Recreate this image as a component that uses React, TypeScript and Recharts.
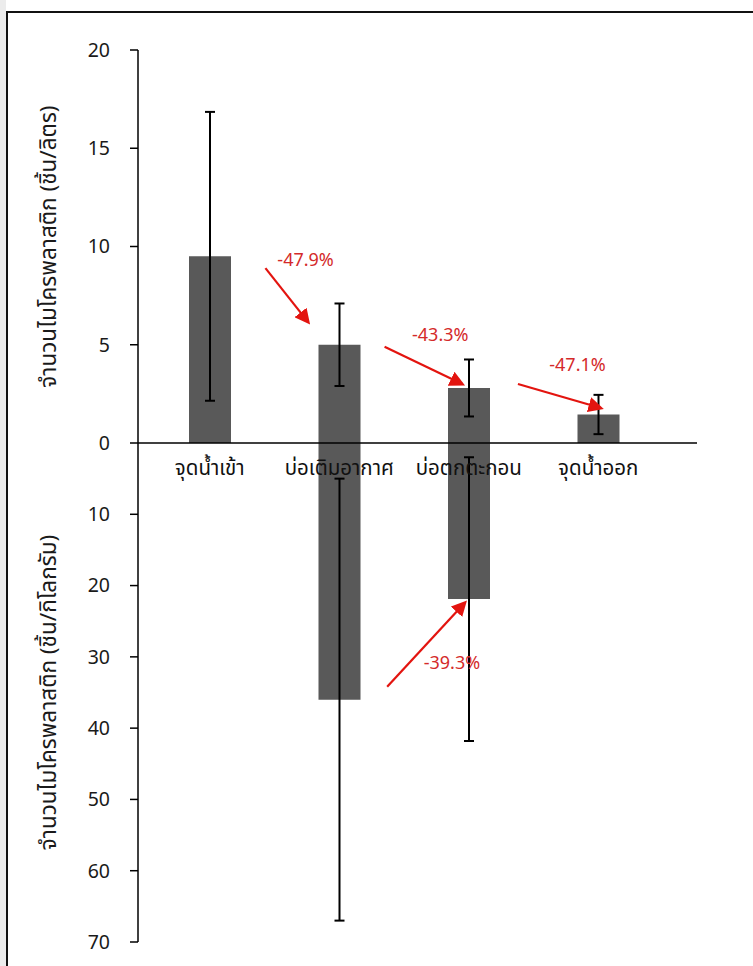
import React from 'react';
import { BarChart, Bar, XAxis, YAxis, ErrorBar } from 'recharts';

// ---- data ----
const categories = ['จุดน้ำเข้า', 'บ่อเติมอากาศ', 'บ่อตกตะกอน', 'จุดน้ำออก'];
const perLitre = [9.5, 5.0, 2.8, 1.45];
const perLitreErr = [7.35, 2.1, 1.45, 1.0];
const perKg: (number | null)[] = [null, 36.0, 21.9, null];
const perKgErr: (number | null)[] = [null, 31.0, 19.9, null];
const topTicks = [0, 5, 10, 15, 20];
const bottomTicks = [10, 20, 30, 40, 50, 60, 70];

// annotations in data units: category index (fractional) and value on the panel axis
const topArrows = [
  { from: [0.43, 8.9], to: [0.76, 6.15], label: '-47.9%', at: [0.74, 9.3] },
  { from: [1.35, 4.9], to: [1.95, 3.0], label: '-43.3%', at: [1.78, 5.45] },
  { from: [2.38, 3.0], to: [3.02, 1.78], label: '-47.1%', at: [2.84, 3.92] },
];
const bottomArrows = [
  { from: [1.37, 34.2], to: [1.97, 22.4], label: '-39.3%', at: [1.87, 30.9] },
];

const topData = categories.map((c, i) => ({ cat: c, v: perLitre[i], e: perLitreErr[i] }));
const bottomData = categories.map((c, i) => ({ cat: c, v: perKg[i], e: perKgErr[i] }));

// ---- layout ----
const W = 753;
const H = 966;
const AXIS_X = 138;
const RIGHT_END = 697;
const TOP_Y = 50;
const ZERO_Y = 443;
const BOTTOM_Y = 942;
const PAD_L = 7;
const PAD_R = 34;
const Y_W = 40;
const X_H = 30;
const FONT = "Tahoma, 'Noto Sans Thai', 'Leelawadee UI', 'DejaVu Sans', 'Noto Sans', sans-serif";
const TOP_MAX = 20;
const BOT_MAX = 70;

const band = (RIGHT_END - AXIS_X - PAD_L - PAD_R) / categories.length;
const xOf = (i: number) => AXIS_X + PAD_L + (i + 0.5) * band;
const yTop = (v: number) => ZERO_Y - (v / TOP_MAX) * (ZERO_Y - TOP_Y);
const yBot = (v: number) => ZERO_Y + (v / BOT_MAX) * (BOTTOM_Y - ZERO_Y);

const tickStyle = { fontFamily: FONT, fontSize: 19.5, fill: '#1a1a1a' };
const axisTitleStyle = { textAnchor: 'middle', fontFamily: FONT, fontSize: 22.5, fill: '#1a1a1a' };

export default function App() {
  const arrows = [
    ...topArrows.map((a) => ({ ...a, y: yTop })),
    ...bottomArrows.map((a) => ({ ...a, y: yBot })),
  ];
  return (
    <div style={{ position: 'absolute', left: 0, top: 0, width: W, height: H, background: '#fff', overflow: 'hidden' }}>
      <div style={{ position: 'absolute', left: 0, top: 0, width: 6, height: H, background: '#ececec' }} />
      <div
        style={{
          position: 'absolute',
          left: 6,
          top: 11,
          width: W + 20,
          height: H + 20,
          borderLeft: '2px solid #111',
          borderTop: '2px solid #111',
        }}
      />
      {/* bottom panel (per kg), drawn underneath */}
      <div style={{ position: 'absolute', left: 0, top: 0 }}>
        <BarChart
          width={W}
          height={H}
          data={bottomData}
          margin={{ top: ZERO_Y, right: W - RIGHT_END, bottom: H - BOTTOM_Y, left: AXIS_X - Y_W }}
        >
          <XAxis dataKey="cat" hide padding={{ left: PAD_L, right: PAD_R }} />
          <YAxis
            width={Y_W}
            reversed
            type="number"
            domain={[0, BOT_MAX]}
            ticks={bottomTicks}
            interval={0}
            tickSize={8}
            tickMargin={20}
            tick={tickStyle}
            axisLine={{ stroke: '#000', strokeWidth: 1.5 }}
            tickLine={{ stroke: '#000', strokeWidth: 1.5 }}
            label={{
              value: 'จำนวนไมโครพลาสติก (ชิ้น/กิโลกรัม)',
              angle: -90,
              position: 'left',
              offset: 50,
              style: axisTitleStyle,
            }}
          />
          <Bar dataKey="v" fill="#595959" barSize={42} isAnimationActive={false}>
            <ErrorBar dataKey="e" width={5} strokeWidth={2} stroke="#000" direction="y" />
          </Bar>
        </BarChart>
      </div>
      {/* top panel (per litre) */}
      <div style={{ position: 'absolute', left: 0, top: 0 }}>
        <BarChart
          width={W}
          height={H}
          data={topData}
          margin={{ top: TOP_Y, right: W - RIGHT_END, bottom: H - ZERO_Y - X_H, left: AXIS_X - Y_W }}
        >
          <XAxis
            dataKey="cat"
            height={X_H}
            padding={{ left: PAD_L, right: PAD_R }}
            tickLine={false}
            tickSize={0}
            tickMargin={17}
            interval={0}
            tick={{ fontFamily: FONT, fontSize: 20.5, fill: '#111' }}
            axisLine={{ stroke: '#000', strokeWidth: 1.5 }}
          />
          <YAxis
            width={Y_W}
            type="number"
            domain={[0, TOP_MAX]}
            ticks={topTicks}
            interval={0}
            tickSize={8}
            tickMargin={20}
            tick={tickStyle}
            axisLine={{ stroke: '#000', strokeWidth: 1.5 }}
            tickLine={{ stroke: '#000', strokeWidth: 1.5 }}
            label={{
              value: 'จำนวนไมโครพลาสติก (ชิ้น/ลิตร)',
              angle: -90,
              position: 'left',
              offset: 50,
              style: axisTitleStyle,
            }}
          />
          <Bar dataKey="v" fill="#595959" barSize={42} isAnimationActive={false}>
            <ErrorBar dataKey="e" width={5} strokeWidth={2} stroke="#000" direction="y" />
          </Bar>
        </BarChart>
      </div>
      {/* change annotations */}
      <svg width={W} height={H} style={{ position: 'absolute', left: 0, top: 0, pointerEvents: 'none' }}>
        <defs>
          <marker id="arrowHead" viewBox="0 0 10 10" refX="8" refY="5" markerWidth="7" markerHeight="7" orient="auto" markerUnits="strokeWidth">
            <path d="M0,0 L10,5 L0,10 z" fill="#e3140f" />
          </marker>
        </defs>
        {arrows.map((a, i) => (
          <g key={i}>
            <line
              x1={xOf(a.from[0])}
              y1={a.y(a.from[1])}
              x2={xOf(a.to[0])}
              y2={a.y(a.to[1])}
              stroke="#e3140f"
              strokeWidth={2.2}
              markerEnd="url(#arrowHead)"
            />
            <text
              x={xOf(a.at[0])}
              y={a.y(a.at[1])}
              textAnchor="middle"
              dominantBaseline="central"
              fontFamily={FONT}
              fontSize={18}
              fill="#d42a2a"
            >
              {a.label}
            </text>
          </g>
        ))}
      </svg>
    </div>
  );
}
